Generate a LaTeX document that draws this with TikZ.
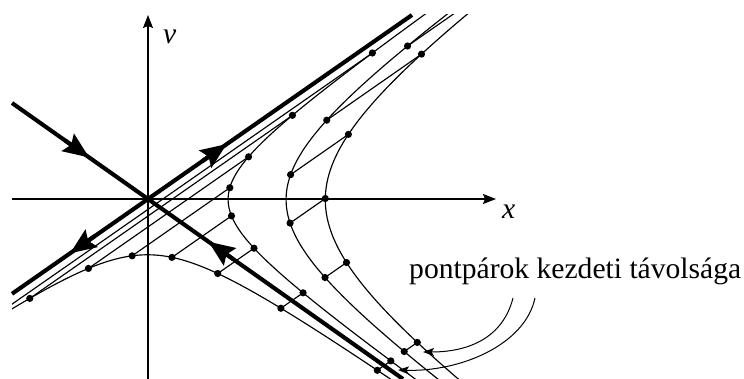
\documentclass[tikz,border=0pt]{standalone}
\usepackage{fontspec}
\setmainfont{Liberation Serif}
\usetikzlibrary{arrows.meta}
\begin{document}
\begin{tikzpicture}[x=1pt,y=-1pt,
  declare function={px(\a,\b)=148+\a+\b; py(\a,\b)=199-0.697*\a+0.706*\b;},
  thinline/.style={line width=1.15pt},
  thickline/.style={line width=4.1pt},
  axisline/.style={line width=1.3pt},
  axisarrow/.style={-{Stealth[length=13pt,width=10pt,inset=2pt]}},
  bigarrow/.style={thickline,-{Stealth[length=26pt,width=21pt,inset=4pt]}},
  notearrow/.style={line width=1pt,-{Stealth[length=11pt,width=8pt,inset=2.5pt]}},
  lbl/.style={font=\fontsize{29.6}{35}\selectfont, inner sep=0pt}]
\useasboundingbox (0,0) rectangle (744,379);

% point pairs
\foreach \k in {0,...,5} {
  \coordinate (A\k) at ({px(33.3*1.64^\k,236/1.64^\k)},{py(33.3*1.64^\k,236/1.64^\k)});
  \coordinate (B\k) at ({px(20.2*1.64^\k,236/1.64^\k)},{py(20.2*1.64^\k,236/1.64^\k)});
}
\foreach \k in {0,...,7} {
  \coordinate (C\k) at ({px(6.8*1.64^\k,236/1.64^\k)},{py(6.8*1.64^\k,236/1.64^\k)});
  \coordinate (D\k) at ({px(-6.7*1.64^\k,236/1.64^\k)},{py(-6.7*1.64^\k,236/1.64^\k)});
}

\begin{scope}
  \clip (12,14.5) rectangle (744,379);
  % trajectories
  \foreach \al/\smin/\smax in {33.3/-1/5, 20.2/-1/6, 6.8/-1/8, -6.7/-1/7} {
    \draw[thinline] plot[domain=\smin:\smax, samples=160, variable=\s, smooth]
      ({px(\al*exp(0.4947*\s),236*exp(-0.4947*\s))},{py(\al*exp(0.4947*\s),236*exp(-0.4947*\s))});
  }
  % pair segments
  \foreach \k in {0,...,5} { \draw[thinline] (A\k) -- (B\k); }
  \foreach \k in {0,...,7} { \draw[thinline] (C\k) -- (D\k); }
\end{scope}

% axes
\coordinate (O) at (148,199);
\coordinate (xs) at (12,199);
\coordinate (xe) at (496,199);
\coordinate (vs) at (148,379);
\coordinate (ve) at (148,15);
\draw[axisline,axisarrow] (xs) -- (xe);
\draw[axisline,axisarrow] (vs) -- (ve);
\node[lbl, anchor=base west] (xl) at (502,219) {\textit{x}};
\node[lbl, anchor=base west] (vl) at (163,44) {\textit{v}};

% manifolds
\coordinate (S1) at (12,103);
\coordinate (S2) at (403,379);
\coordinate (U1) at (12,293.8);
\coordinate (U2) at (412,15);
\draw[thickline] (S1) -- (S2);
\draw[thickline] (U1) -- (U2);
\coordinate (aUL0) at (64.7,140.2);  \coordinate (aUL) at (89.2,157.5);
\coordinate (aLR0) at (233,259);     \coordinate (aLR) at (208.5,241.7);
\coordinate (aUR0) at (202.1,161.3); \coordinate (aUR) at (226.7,144.1);
\coordinate (aLL0) at (94.7,236.1);  \coordinate (aLL) at (70.1,253.3);
\draw[bigarrow] (aUL0) -- (aUL);
\draw[bigarrow] (aLR0) -- (aLR);
\draw[bigarrow] (aUR0) -- (aUR);
\draw[bigarrow] (aLL0) -- (aLL);

% dots
\foreach \k in {0,...,4} { \fill (A\k) circle (3.6pt); }
\foreach \k in {0,...,5} { \fill (B\k) circle (3.6pt); }
\foreach \k in {0,...,7} { \fill (C\k) circle (3.6pt); }
\foreach \k in {0,...,6} { \fill (D\k) circle (3.6pt); }

% annotation
\node[lbl, anchor=base west] (note) at (409,279) {pontpárok kezdeti távolsága};
\coordinate (n1) at (513,298);
\coordinate (t1) at (423,352);
\coordinate (n2) at (535,298);
\coordinate (t2) at (398,370);
\draw[notearrow] (n1) .. controls (503,337) and (470,352) .. (t1);
\draw[notearrow] (n2) .. controls (525,345) and (460,372) .. (t2);
\end{tikzpicture}
\end{document}
